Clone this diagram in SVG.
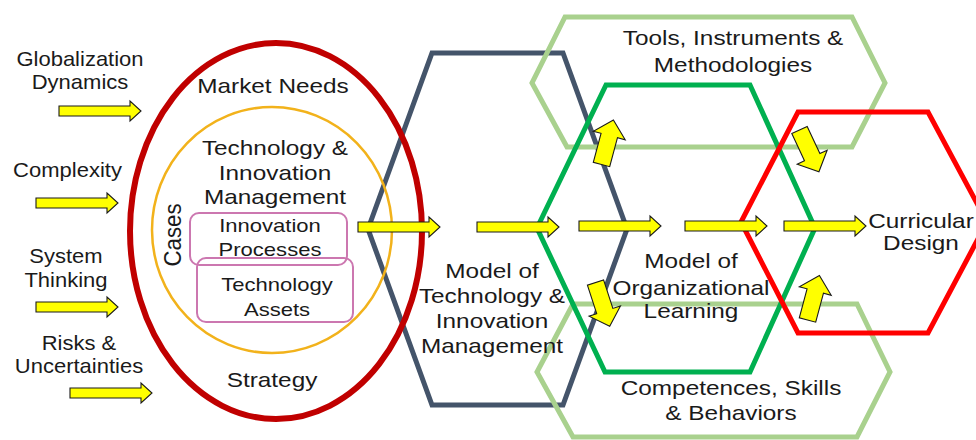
<svg xmlns="http://www.w3.org/2000/svg" xmlns:xlink="http://www.w3.org/1999/xlink" width="976" height="440" viewBox="0 0 976 440">
<style>
  text { font-family: "Liberation Sans", Arial, sans-serif; fill: #1a1a1a; }
  .t21 { font-size: 21px; }
  .t20 { font-size: 20px; }
  .t19 { font-size: 19px; }
  .hex { fill: none; stroke-width: 5; stroke-linejoin: miter; }
  .arr { fill: #ffff00; stroke: #1a1a1a; stroke-width: 1.1; stroke-linejoin: miter; }
</style>
<defs>
  <path id="harrow" d="M0,-5 H71 V-10 L82,0 L71,10 V5 H0 Z"/>
  <path id="darrow" d="M0,-8.5 H30 V-16.5 L46,0 L30,16.5 V8.5 H0 Z"/>
</defs>
<rect width="976" height="440" fill="#ffffff"/>

<g id="model-tim">
  <polygon class="hex" stroke="#44546a" points="432,53 563,53 627,229 563,405 432,405 368,229"/>
</g>
<g id="tools">
  <polygon class="hex" stroke="#a9d18e" points="565,17 852,17 885,83 852,147 567,147 532,83"/>
</g>
<g id="competences">
  <polygon class="hex" stroke="#a9d18e" points="573,304 857,304 890,372 857,437 573,437 537,372"/>
</g>
<g id="model-ol">
  <polygon class="hex" stroke="#00b050" points="606,85 750,85 815,228 750,372 605,372 537,228"/>
</g>
<g id="curricular">
  <polygon class="hex" stroke="#ff0000" points="798,112 928,112 987,222 928,333 798,333 741,222"/>
</g>

<g id="market">
  <ellipse cx="276" cy="231" rx="146" ry="188" fill="none" stroke="#c00000" stroke-width="6"/>
</g>
<g id="tim">
  <ellipse cx="272" cy="230" rx="120" ry="123" fill="none" stroke="#f2b21b" stroke-width="2.5"/>
</g>
<g id="innovation-processes">
  <rect x="190" y="213" width="157" height="52" rx="9" fill="none" stroke="#cc77b0" stroke-width="2"/>
</g>
<g id="technology-assets">
  <rect x="197" y="258" width="156" height="64" rx="9" fill="none" stroke="#cc77b0" stroke-width="2"/>
</g>

<g id="connectors">
  <use xlink:href="#harrow" href="#harrow" class="arr" x="59" y="111"/>
  <use xlink:href="#harrow" href="#harrow" class="arr" x="36" y="203"/>
  <use xlink:href="#harrow" href="#harrow" class="arr" x="36" y="307"/>
  <use xlink:href="#harrow" href="#harrow" class="arr" x="70" y="393"/>
  <use xlink:href="#harrow" href="#harrow" class="arr" x="358" y="227"/>
  <use xlink:href="#harrow" href="#harrow" class="arr" x="477" y="227"/>
  <use xlink:href="#harrow" href="#harrow" class="arr" x="579" y="226"/>
  <use xlink:href="#harrow" href="#harrow" class="arr" x="685" y="226"/>
  <use xlink:href="#harrow" href="#harrow" class="arr" x="784" y="226"/>
  <use xlink:href="#darrow" href="#darrow" class="arr" transform="translate(601.5,164.5) rotate(-75)"/>
  <use xlink:href="#darrow" href="#darrow" class="arr" transform="translate(799.5,130) rotate(65)"/>
  <use xlink:href="#darrow" href="#darrow" class="arr" transform="translate(595.5,282.5) rotate(72)"/>
  <use xlink:href="#darrow" href="#darrow" class="arr" transform="translate(807.5,320) rotate(-75)"/>
</g>

<g id="labels-left">
  <text class="t20" text-anchor="middle" transform="translate(80 0) scale(1.1 1)"><tspan x="0" y="66">Globalization</tspan><tspan x="0" y="89">Dynamics</tspan></text>
  <text class="t20" text-anchor="middle" transform="translate(67.5 0) scale(1.1 1)"><tspan x="0" y="177">Complexity</tspan></text>
  <text class="t20" text-anchor="middle" transform="translate(66 0) scale(1.1 1)"><tspan x="0" y="263">System</tspan><tspan x="0" y="287">Thinking</tspan></text>
  <text class="t20" text-anchor="middle" transform="translate(79 0) scale(1.1 1)"><tspan x="0" y="350">Risks &amp;</tspan><tspan x="0" y="373">Uncertainties</tspan></text>
</g>

<g id="labels-ellipse">
  <text class="t21" text-anchor="middle" transform="translate(273 0) scale(1.16 1)"><tspan x="0" y="93">Market Needs</tspan></text>
  <text class="t21" text-anchor="middle" transform="translate(275 0) scale(1.16 1)"><tspan x="0" y="155">Technology &amp;</tspan><tspan x="0" y="180">Innovation</tspan><tspan x="0" y="204">Management</tspan></text>
  <text class="t19" text-anchor="middle" transform="translate(270 0) scale(1.16 1)"><tspan x="0" y="232">Innovation</tspan><tspan x="0" y="256">Processes</tspan></text>
  <text class="t19" text-anchor="middle" transform="translate(277 0) scale(1.16 1)"><tspan x="0" y="291">Technology</tspan><tspan x="0" y="316">Assets</tspan></text>
  <text class="t21" text-anchor="middle" transform="translate(272 0) scale(1.16 1)"><tspan x="0" y="387">Strategy</tspan></text>
  <text class="t21" text-anchor="middle" transform="translate(181 235) rotate(-90) scale(1.06 1.12)">Cases</text>
</g>

<g id="labels-right">
  <text class="t21" text-anchor="middle" transform="translate(733 0) scale(1.16 1)"><tspan x="0" y="45">Tools, Instruments &amp;</tspan><tspan x="0" y="72">Methodologies</tspan></text>
  <text class="t21" text-anchor="middle" transform="translate(492 0) scale(1.16 1)"><tspan x="0" y="278">Model of</tspan><tspan x="0" y="303">Technology &amp;</tspan><tspan x="0" y="328">Innovation</tspan><tspan x="0" y="353">Management</tspan></text>
  <text class="t21" text-anchor="middle" transform="translate(691 0) scale(1.16 1)"><tspan x="0" y="268">Model of</tspan><tspan x="0" y="295">Organizational</tspan><tspan x="0" y="318">Learning</tspan></text>
  <text class="t21" text-anchor="middle" transform="translate(921 0) scale(1.16 1)"><tspan x="0" y="228">Curricular</tspan><tspan x="0" y="250">Design</tspan></text>
  <text class="t21" text-anchor="middle" transform="translate(731 0) scale(1.16 1)"><tspan x="0" y="395">Competences, Skills</tspan><tspan x="0" y="420">&amp; Behaviors</tspan></text>
</g>
</svg>
